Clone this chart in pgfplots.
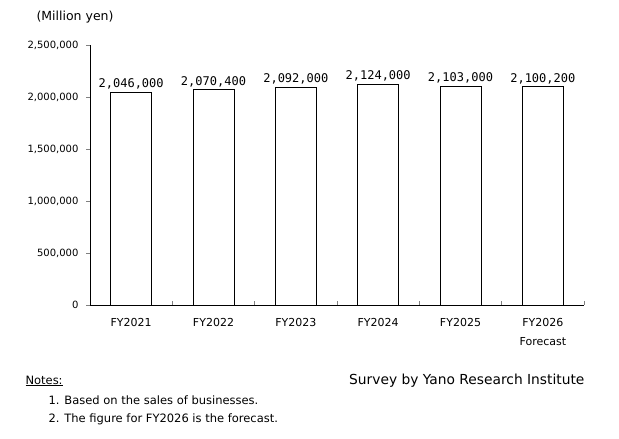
\documentclass[border=0pt]{standalone}
\usepackage{fontspec}
\setmainfont{DejaVu Sans}
\newfontfamily\labfont{DejaVu Sans Mono}
\usepackage{pgfplots}
\pgfplotsset{compat=1.18}

\pgfplotstableread{
x val
0 2046000
1 2070400
2 2092000
3 2124000
4 2103000
5 2100200
}\sales

\begin{document}
\begin{tikzpicture}[x=1pt,y=1pt]
\useasboundingbox (0,0) rectangle (619,439);
\begin{axis}[
    at={(90pt,134pt)}, anchor=south west,
    scale only axis, width=494pt, height=260pt,
    axis x line=bottom, axis y line=left,
    axis line style={-, line width=0.9pt},
    xmin=-0.5, xmax=5.5, ymin=0, ymax=2500000,
    xtick={0,...,5},
    xticklabels={FY2021,FY2022,FY2023,FY2024,FY2025,FY2026},
    major x tick style={draw=none},
    minor xtick={0.5,1.5,2.5,3.5,4.5,5.5},
    minor tick length=4pt,
    minor x tick style={line width=0.9pt, yshift=4pt},
    ytick={0,500000,...,2500000},
    tick align=outside, major tick length=4pt,
    y tick style={line width=0.9pt},
    scaled y ticks=false,
    /pgf/number format/.cd, fixed, 1000 sep={,}, assume math mode=true,
    /pgfplots/.cd,
    yticklabel style={font=\fontsize{10}{11}\selectfont, xshift=-4pt},
    xticklabel style={font=\fontsize{11}{12}\selectfont, yshift=-6pt},
    ybar, bar width=41pt,
    nodes near coords,
    every node near coord/.append style={font=\labfont\fontsize{12}{14}\selectfont, yshift=-1pt},
]
\addplot[fill=white, draw=black, line width=0.9pt] table[x=x,y=val] {\sales};
\end{axis}
\node[font=\fontsize{11}{12}\selectfont] at (543,97) {Forecast};
\node[font=\fontsize{12.5}{14}\selectfont, anchor=west] at (33,422) {(Million yen)};
\node[font=\fontsize{11.5}{13}\selectfont, anchor=west] at (22,58) {\underline{Notes:}};
\node[font=\fontsize{11.5}{13}\selectfont, anchor=west] at (45,39) {1. Based on the sales of businesses.};
\node[font=\fontsize{11.5}{13}\selectfont, anchor=west] at (45,20) {2. The figure for FY2026 is the forecast.};
\node[font=\fontsize{13.8}{16}\selectfont, anchor=east] at (588,58) {Survey by Yano Research Institute};
\end{tikzpicture}
\end{document}
